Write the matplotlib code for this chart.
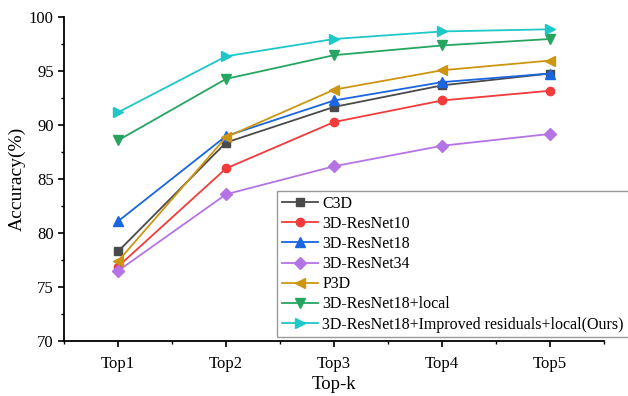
import matplotlib
matplotlib.use("Agg")
import matplotlib.pyplot as plt
from matplotlib.ticker import MultipleLocator

# ---- data -------------------------------------------------------------
topk = ["Top1", "Top2", "Top3", "Top4", "Top5"]

c3d = [78.3, 88.4, 91.7, 93.7, 94.8]
resnet10 = [76.9, 86.0, 90.3, 92.3, 93.2]
resnet18 = [81.1, 89.0, 92.3, 94.0, 94.8]
resnet34 = [76.5, 83.6, 86.2, 88.1, 89.2]
p3d = [77.4, 88.9, 93.3, 95.1, 96.0]
resnet18_local = [88.6, 94.3, 96.5, 97.4, 98.0]
ours = [91.2, 96.4, 98.0, 98.7, 98.9]

series = [
    ("C3D", c3d, "#4a4a4a", "s"),
    ("3D-ResNet10", resnet10, "#f23b3b", "o"),
    ("3D-ResNet18", resnet18, "#1a66e0", "^"),
    ("3D-ResNet34", resnet34, "#b474e6", "D"),
    ("P3D", p3d, "#cc9612", "<"),
    ("3D-ResNet18+local", resnet18_local, "#26a561", "v"),
    ("3D-ResNet18+Improved residuals+local(Ours)", ours, "#1ec8c8", ">"),
]

plt.rcParams["font.family"] = ["Liberation Serif", "DejaVu Serif"]

fig = plt.figure(figsize=(6.28, 3.96), dpi=100)
ax = fig.add_axes([0.102, 0.139, 0.86, 0.817])

x = list(range(1, len(topk) + 1))
for name, vals, color, marker in series:
    ms = 6 if marker in ("D", "o", "s") else 7
    ax.plot(x, vals, color=color, marker=marker, markersize=ms,
            linewidth=1.3, label=name)

ax.set_xlim(0.5, 5.5)
ax.set_ylim(70, 100)
ax.set_xticks(x)
ax.set_xticklabels(topk)
ax.xaxis.set_minor_locator(MultipleLocator(0.5))
ax.yaxis.set_major_locator(MultipleLocator(5))
ax.yaxis.set_minor_locator(MultipleLocator(2.5))
ax.tick_params(which="major", direction="out", length=4, width=1.2, labelsize=12)
ax.tick_params(axis="x", which="major", pad=7)
ax.tick_params(which="minor", direction="out", length=2.5, width=1.0)
for side in ("top", "right"):
    ax.spines[side].set_visible(False)
for side in ("left", "bottom"):
    ax.spines[side].set_linewidth(1.3)

ax.set_xlabel("Top-k", fontsize=13.5, labelpad=3)
ax.set_ylabel("Accuracy(%)", fontsize=14, labelpad=2)

fig.legend(loc="upper left", bbox_to_anchor=(0.441, 0.518), fontsize=11.5,
           frameon=True, fancybox=False, edgecolor="#808080",
           borderpad=0.3, labelspacing=0.26, handlelength=2.3,
           handletextpad=0.25, borderaxespad=0)

fig.savefig("out.png", dpi=100)
